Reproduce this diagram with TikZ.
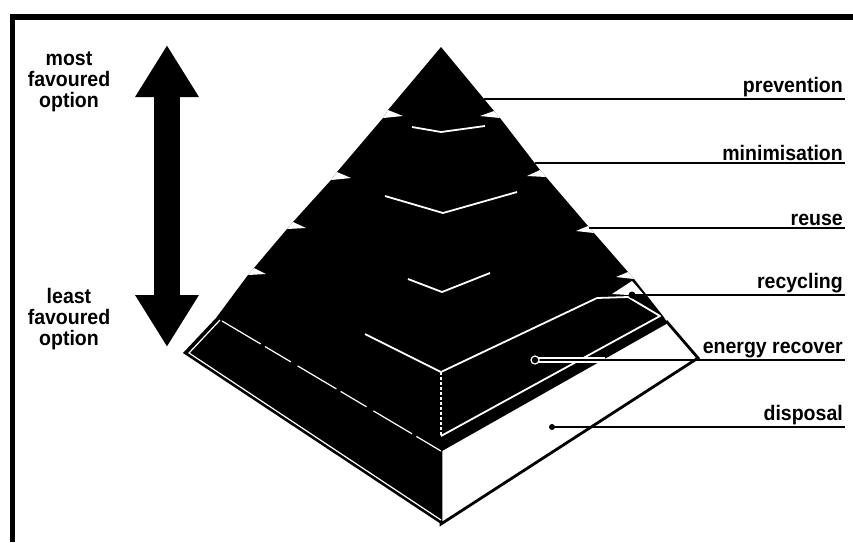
\documentclass[tikz,border=0pt]{standalone}
\usepackage{fontspec}
\setmainfont{Liberation Sans}[FakeStretch=0.93]
\usetikzlibrary{arrows.meta, positioning}

\begin{document}
\begin{tikzpicture}[x=1pt, y=-1pt,
    lbl/.style={font=\bfseries\fontsize{21}{22}\selectfont, inner sep=2pt, anchor=south east},
    side/.style={font=\bfseries\fontsize{21}{21}\selectfont, align=center},
    leader/.style={line width=2.8pt},
    chev/.style={white, line width=1.8pt, line join=round},
    notch/.style={fill=white}]
    \useasboundingbox (0,0) rectangle (853,542);
    \draw[line width=5.5pt, line join=miter] (12.5,542) -- (12.5,17) -- (853,17);

    \coordinate (most) at (167,45);
    \coordinate (least) at (167,347);
    \draw[line width=26pt, {Triangle[length=52pt, width=60pt]}-{Triangle[length=52pt, width=60pt]}] (most) -- (least);
    \node[side] (mostlbl) at (69,82) {most\\favoured\\option};
    \node[side] (leastlbl) at (69,319) {least\\favoured\\option};

    \fill (441,47) -- (388,110) -- (383,118) -- (337,172) -- (331,180) -- (293,222) -- (287,229)
        -- (254,268) -- (248,275) -- (216,318) -- (183,353) -- (441,524) -- (441,450) -- (667,322)
        -- (663,316) -- (634,279) -- (628,272) -- (594,233) -- (588,226) -- (546,177) -- (540,170)
        -- (500,118) -- (494,111) -- cycle;
    \filldraw[fill=white, line width=2.8pt, line join=miter] (441,450) -- (667,322) -- (698,358) -- (441,524) -- cycle;
    \draw[white, line width=1.2pt] (220,320) -- (189,353) -- (441,520);
    \draw[white, line width=1.2pt, dash pattern=on 45pt off 5pt on 30pt off 8pt] (222,321) -- (441,451);

    \fill[notch] (388,110) -- (403,116) -- (383,118) -- cycle;
    \fill[notch] (337,172) -- (351,178) -- (331,180) -- cycle;
    \fill[notch] (293,222) -- (306,228) -- (287,229) -- cycle;
    \fill[notch] (254,268) -- (266,274) -- (248,275) -- cycle;
    \fill[notch] (494,111) -- (480,116) -- (500,118) -- cycle;
    \fill[notch] (540,170) -- (527,176) -- (546,177) -- cycle;
    \fill[notch] (588,226) -- (576,231) -- (594,233) -- cycle;
    \fill[notch] (628,272) -- (616,277) -- (634,279) -- cycle;
    \fill[notch] (612,294) -- (632,281) -- (645,296) -- cycle;

    \draw[chev] (412,127) -- (441,132) -- (485,126);
    \draw[chev] (385,196) -- (443,213) -- (517,192);
    \draw[chev] (408,279) -- (442,292) -- (490,273);
    \draw[chev] (365,334) -- (441,372) -- (597,298) -- (628,297) -- (660,316) -- (441,436);
    \draw[white, line width=1.2pt, densely dashed] (441,372) -- (441,436);

    \node[lbl] (prevention) at (845,99) {prevention};
    \node[lbl] (minimisation) at (845,163) {minimisation};
    \node[lbl] (reuse) at (845,228) {reuse};
    \node[lbl] (recycling) at (845,295) {recycling};
    \node[lbl] (energy) at (845,360) {energy recover};
    \node[lbl] (disposal) at (845,427) {disposal};

    \coordinate (p1) at (484,99);
    \coordinate (p2) at (535,163);
    \coordinate (p3) at (589,228);
    \coordinate (p4) at (632,295);
    \coordinate (p5) at (535,360);
    \coordinate (p6) at (552,427);

    \draw[leader] (p1) -- (prevention.south east);
    \draw[leader] (p2) -- (minimisation.south east);
    \draw[leader] (p3) -- (reuse.south east);
    \draw[leader] (p4) -- (recycling.south east);
    \fill (p4) circle (3.5pt);
    \draw[white, line width=5.5pt, shorten >=240pt] (p5) -- (energy.south east);
    \draw[leader] (p5) -- (energy.south east);
    \filldraw[draw=white, fill=black, line width=1.2pt] (p5) circle (4pt);
    \draw[leader] (p6) -- (disposal.south east);
    \fill (p6) circle (3pt);
\end{tikzpicture}
\end{document}
